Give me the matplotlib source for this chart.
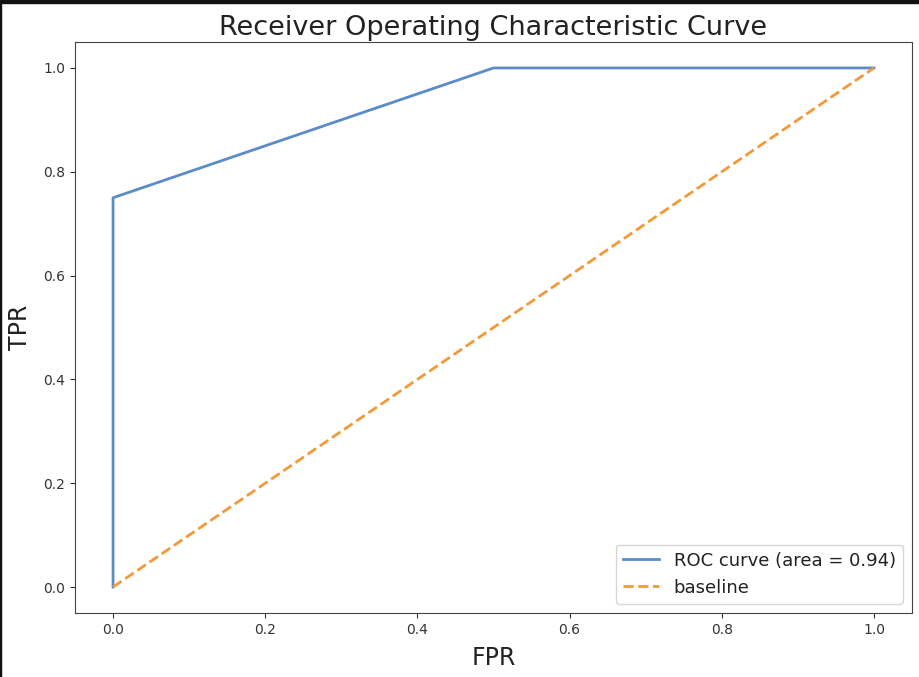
import numpy as np
import matplotlib
matplotlib.use("Agg")
import matplotlib.pyplot as plt
from matplotlib.patches import Rectangle

# ROC points
fpr = [0.0, 0.0, 0.5, 1.0]
tpr = [0.0, 0.75, 1.0, 1.0]
base_x = [0.0, 1.0]
base_y = [0.0, 1.0]
roc_auc = 0.94

W, H = 920, 677
fig = plt.figure(figsize=(W / 100, H / 100), dpi=100)
ax = fig.add_axes([75 / W, 1 - 613 / H, (912 - 75) / W, (613 - 42) / H])

ax.plot(fpr, tpr, color="#5b8bc9", lw=2, label="ROC curve (area = %0.2f)" % roc_auc)
ax.plot(base_x, base_y, color="#f09a3a", lw=2, ls="--", label="baseline")

ax.set_xlim(-0.05, 1.05)
ax.set_ylim(-0.05, 1.05)
ax.set_xticks([0.0, 0.2, 0.4, 0.6, 0.8, 1.0])
ax.set_yticks([0.0, 0.2, 0.4, 0.6, 0.8, 1.0])
ax.tick_params(labelsize=10, colors="#333333")
for s in ax.spines.values():
	s.set_color("#444444")
ax.set_xlabel("FPR", fontsize=17, color="#222222", labelpad=7)
ax.set_ylabel("TPR", fontsize=17, color="#222222", labelpad=8)
ax.set_title("Receiver Operating Characteristic Curve", fontsize=19.5, color="#222222", pad=5)
leg = ax.legend(loc="lower right", fontsize=13)
for t in leg.get_texts():
	t.set_color("#222222")

# dark frame of the screenshot
fig.patches.append(Rectangle((0, 1 - 3 / H), 1, 3 / H, transform=fig.transFigure, color="#111111", zorder=10))
fig.patches.append(Rectangle((0, 0), 1.5 / W, 1, transform=fig.transFigure, color="#111111", zorder=10))

fig.savefig("out.png", dpi=100)
